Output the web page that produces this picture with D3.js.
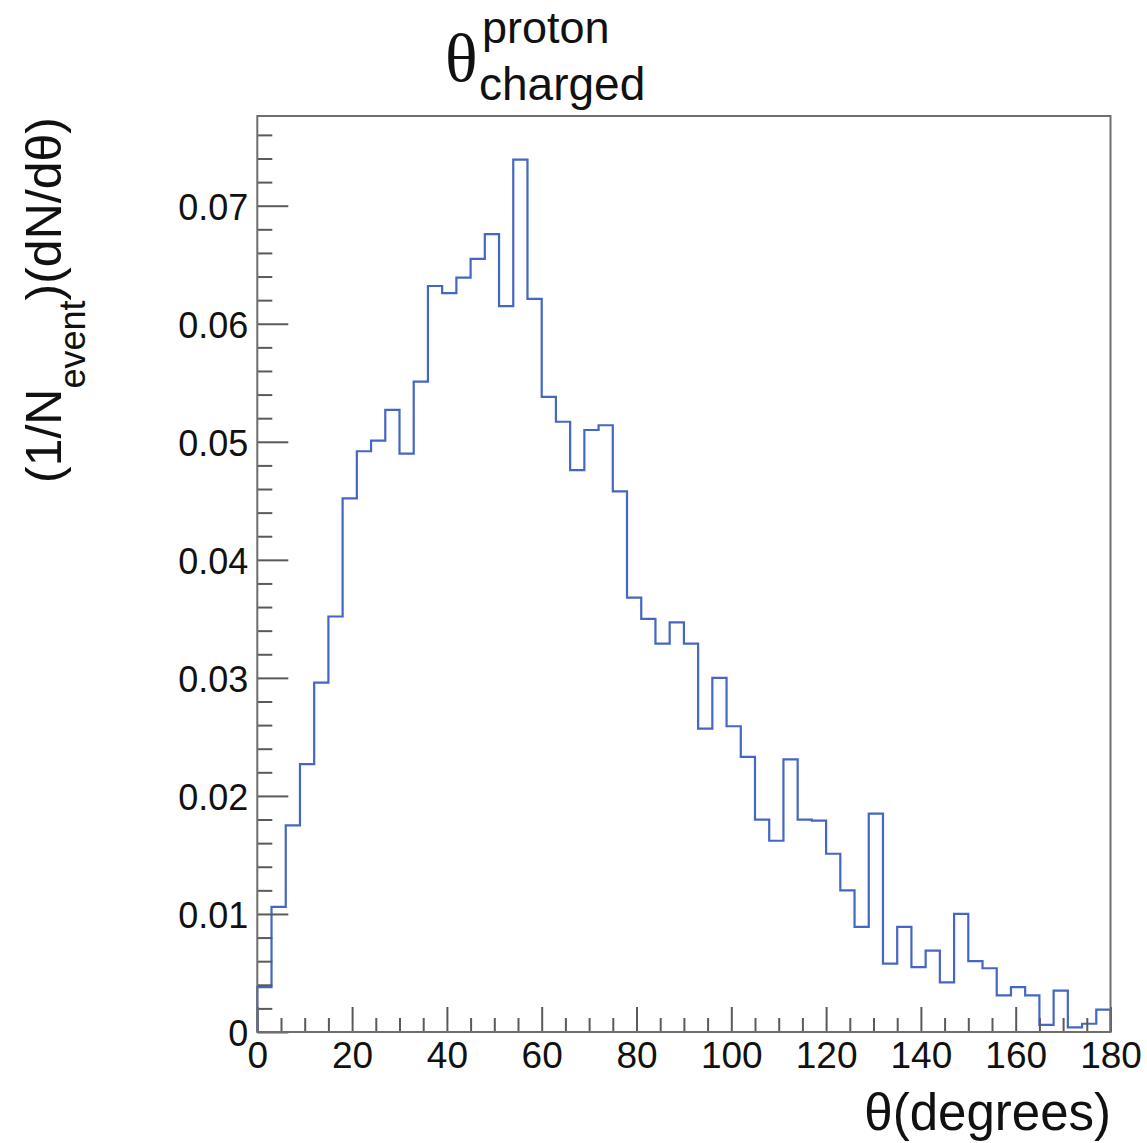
<!DOCTYPE html>
<html>
<head>
<meta charset="utf-8">
<script src="https://cdn.jsdelivr.net/npm/d3@7"></script>
<style>
  html, body { margin: 0; padding: 0; background: #fff; }
  svg { display: block; }
  text { font-family: "Liberation Sans", Arial, Helvetica, sans-serif; fill: #111; }
</style>
</head>
<body>
<svg id="chart" width="1147" height="1143"></svg>
<script>
// ---- data (bin contents, 3-degree bins from 0 to 180) ----
const binEdgesStart = 0;
const binWidth = 3;
const binValues = [
  0.0038, 0.0106, 0.0175, 0.0227, 0.0296, 0.0352, 0.0452, 0.0492, 0.0501, 0.0527,
  0.0490, 0.0551, 0.0632, 0.0626, 0.0639, 0.0655, 0.0676, 0.0615, 0.0739, 0.0621,
  0.0538, 0.0517, 0.0476, 0.0510, 0.0514, 0.0458, 0.0368, 0.0350, 0.0329, 0.0347,
  0.0329, 0.0257, 0.0300, 0.0259, 0.0233, 0.0180, 0.0162, 0.0231, 0.0180, 0.0179,
  0.0151, 0.0120, 0.0089, 0.0185, 0.0058, 0.0089, 0.0055, 0.0069, 0.0042, 0.0100,
  0.0060, 0.0054, 0.0031, 0.0038, 0.0031, 0.0006, 0.0035, 0.0004, 0.0007, 0.0019
];
const xMajorTicks = [0, 20, 40, 60, 80, 100, 120, 140, 160, 180];
const yMajorTicks = [0, 0.01, 0.02, 0.03, 0.04, 0.05, 0.06, 0.07];
const xDomain = [0, 180];
const yDomain = [0, 0.0776];

(function () {
// ---- layout ----
const pLeft = 257.3, pRight = 1110.5, pTop = 116, pBottom = 1032;
const svg = d3.select("#chart");
svg.append("rect").attr("width", 1147).attr("height", 1143).attr("fill", "#fff");

const x = d3.scaleLinear().domain(xDomain).range([pLeft, pRight]);
const y = d3.scaleLinear().domain(yDomain).range([pBottom, pTop]);

const xMinor = d3.range(0, 181, 5).filter(v => v % 20 !== 0);
const yMinor = d3.range(0, 77, 2).map(v => v / 1000).filter(v => Math.round(v * 1000) % 10 !== 0);

// histogram outline
const pts = [[xDomain[0], 0]];
binValues.forEach((v, i) => {
  const x0 = binEdgesStart + i * binWidth, x1 = x0 + binWidth;
  pts.push([x0, v]); pts.push([x1, v]);
});
pts.push([xDomain[1], 0]);
const line = d3.line().x(d => x(d[0])).y(d => y(d[1]));
svg.append("path")
  .attr("d", line(pts))
  .attr("fill", "none")
  .attr("stroke", "#4466c4")
  .attr("stroke-width", 2.2)
  .attr("stroke-linejoin", "miter");

// axes
const yAxis = d3.axisLeft(y).tickValues(yMajorTicks)
  .tickFormat(d => d === 0 ? "0" : d.toFixed(2))
  .tickSizeInner(-31).tickSizeOuter(0).tickPadding(9);
const gy = svg.append("g").attr("transform", `translate(${pLeft},0)`).call(yAxis);
gy.select(".domain").remove();
gy.selectAll("text").attr("font-size", 36).attr("dy", "0.38em")
  .style("font-family", '"Liberation Sans", Arial, sans-serif').attr("fill", "#111");

const yAxisMinor = d3.axisLeft(y).tickValues(yMinor).tickFormat("")
  .tickSizeInner(-15).tickSizeOuter(0);
const gym = svg.append("g").attr("transform", `translate(${pLeft},0)`).call(yAxisMinor);
gym.select(".domain").remove();

const xAxis = d3.axisBottom(x).tickValues(xMajorTicks)
  .tickFormat(d3.format("d"))
  .tickSizeInner(-25).tickSizeOuter(0).tickPadding(10);
const gx = svg.append("g").attr("transform", `translate(0,${pBottom})`).call(xAxis);
gx.select(".domain").remove();
gx.selectAll("text").attr("font-size", 37)
  .style("font-family", '"Liberation Sans", Arial, sans-serif').attr("fill", "#111");

const xAxisMinor = d3.axisBottom(x).tickValues(xMinor).tickFormat("")
  .tickSizeInner(-14).tickSizeOuter(0);
const gxm = svg.append("g").attr("transform", `translate(0,${pBottom})`).call(xAxisMinor);
gxm.select(".domain").remove();

svg.selectAll(".tick line").attr("stroke", "#5a5a5a").attr("stroke-width", 2);

// frame
svg.append("rect")
  .attr("x", pLeft).attr("y", pTop)
  .attr("width", pRight - pLeft).attr("height", pBottom - pTop)
  .attr("fill", "none").attr("stroke", "#6e6e6e").attr("stroke-width", 2);

// title
svg.append("text").attr("x", 445).attr("y", 81)
  .style("font-family", '"Liberation Serif", "Times New Roman", serif')
  .attr("font-size", 68).text("θ");
svg.append("text").attr("x", 482).attr("y", 43)
  .attr("font-size", 45).text("proton");
svg.append("text").attr("x", 479).attr("y", 100)
  .attr("font-size", 46).text("charged");

// x title
svg.append("text").attr("x", 1111).attr("y", 1130)
  .attr("text-anchor", "end").attr("font-size", 51).text("θ(degrees)");

// y title
const yt = svg.append("text")
  .attr("transform", "translate(61,483) rotate(-90)")
  .attr("font-size", 50);
yt.append("tspan").text("(1/N");
yt.append("tspan").attr("font-size", 36).attr("dy", 24).text("event");
yt.append("tspan").attr("dy", -24).text(")(dN/dθ)");
})();
</script>
</body>
</html>
